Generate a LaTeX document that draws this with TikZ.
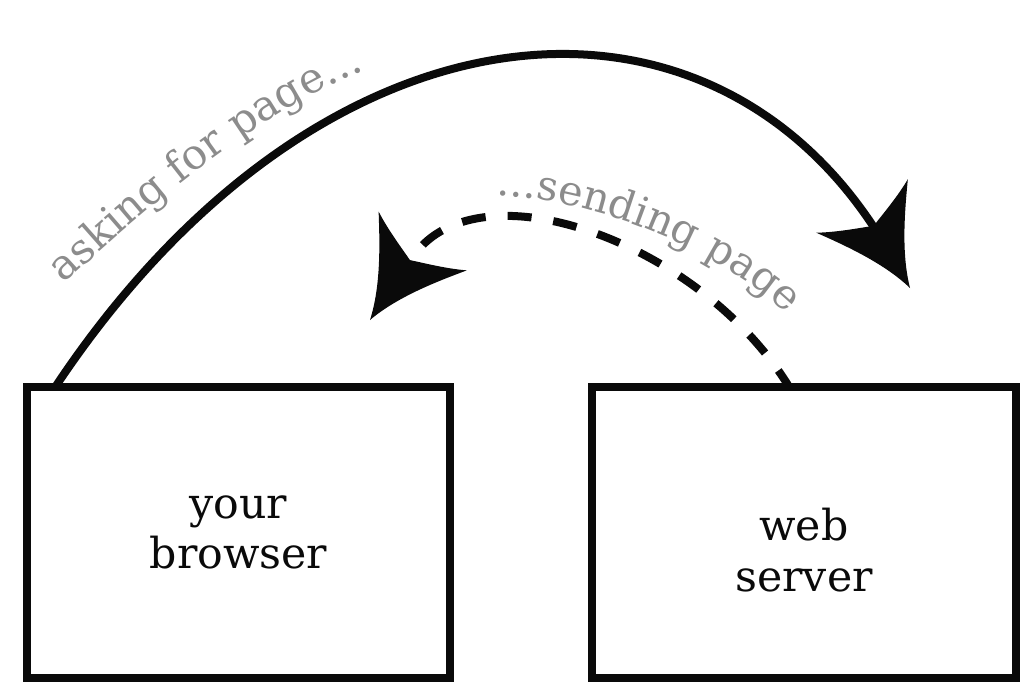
\documentclass[tikz,border=0pt]{standalone}
\usepackage{fontspec}
\setmainfont{DejaVu Serif}
\usetikzlibrary{decorations.text}
\definecolor{inkblack}{HTML}{0A0A0A}
\definecolor{labelgray}{HTML}{8C8C8C}
\tikzset{
  boxnode/.style={draw=inkblack, line width=6.6pt, inner sep=0pt},
  boxtext/.style={align=center, text=inkblack, font=\fontsize{32}{38}\selectfont},
  solidarc/.style={draw=inkblack, line width=6pt},
  dasharc/.style={draw=inkblack, line width=6pt, dash pattern=on 18pt off 16.5pt, dash phase=19pt},
  headpic/.pic={
    \fill[inkblack, rotate=#1] (0,0) .. controls (-35,-10) and (-70,-35) .. (-95,-53)
      .. controls (-85,-35) and (-78,-15) .. (-72,0)
      .. controls (-78,15) and (-85,35) .. (-95,53)
      .. controls (-70,35) and (-35,10) .. (0,0) -- cycle;
  },
}
\begin{document}
\begin{tikzpicture}[x=0.75pt,y=-0.75pt]
\useasboundingbox (0,0) rectangle (1024,688);
% boxes
\node[boxnode, minimum width=317.25pt, minimum height=218.25pt] (browser) at (238.5,532.5) {};
\node[boxnode, minimum width=318pt, minimum height=218.25pt] (server) at (804,532.5) {};
\node[boxtext] (browsertext) at (238.5,532.5) {your\\browser};
\node[boxtext] (servertext) at (804,550) {web\\server};
% end points
\coordinate (tipA) at (910,288);
\coordinate (endA) at (885,245);
\coordinate (tipB) at (370,320);
\coordinate (endB) at (410,261);
% solid connector
\draw[solidarc] ([xshift=24pt,yshift=-4pt]browser.north west) .. controls (320,-12) and (713,-44) .. (endA);
\pic at (tipA) {headpic=-59.7};
% dashed connector (drawn from the arrowhead end so the gap before the head is fixed)
\draw[dasharc] (endB) .. controls (472,160) and (700,240) .. ([xshift=151.6pt,yshift=-4pt]server.north west);
\pic at (tipB) {headpic=-123.7};
% labels
\path[decorate, decoration={text along path, text align=left,
  text={|\fontsize{31.5}{33}\selectfont\color{labelgray}|asking for page...}}]
  (64,284) .. controls (150,205) and (260,110) .. (374,66);
\path[decorate, decoration={text along path, text align=left,
  text={|\fontsize{31}{33}\selectfont\color{labelgray}|...sending page}}]
  (496,196) .. controls (580,196) and (720,245) .. (792,320);
\end{tikzpicture}
\end{document}
